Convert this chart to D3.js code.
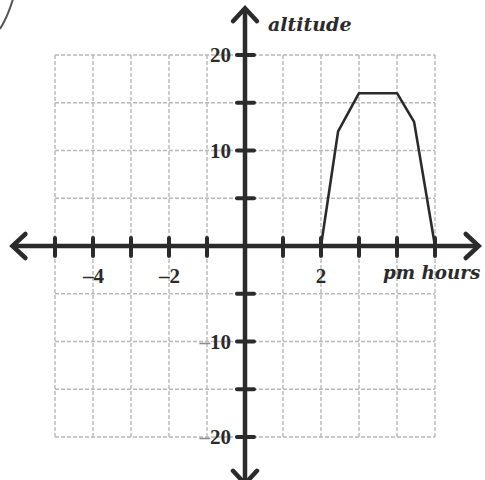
<!DOCTYPE html>
<html>
<head>
<meta charset="utf-8">
<script src="https://cdn.jsdelivr.net/npm/d3@7"></script>
<style>
  body { margin: 0; background: #fff; }
</style>
</head>
<body>
<script>
// data
const hours = [2, 2.45, 3, 4, 4.45, 5];
const altitude = [0, 12, 16, 16, 13, 0];
const xTickLabels = [-4, -2, 2];
const yTickLabels = [20, 10, -10, -20];
const xGridValues = d3.range(-5, 6, 1);
const yGridValues = d3.range(-20, 21, 5);

let width = 485;
let height = 480;
let ink = "#2b2b2b";

let x = d3.scaleLinear().domain([-5, 5]).range([55, 435]);
let y = d3.scaleLinear().domain([-20, 20]).range([437, 55]);

let svg = d3.select("body").append("svg")
    .attr("width", width)
    .attr("height", height)
    .attr("viewBox", [0, 0, width, height]);

// stray circle edge from the scan, top-left corner
svg.append("path")
    .attr("d", "M13,-1 Q8,16 0,29")
    .attr("fill", "none")
    .attr("stroke", "#555")
    .attr("stroke-width", 2);

// dashed grid
svg.append("g")
    .selectAll("line")
    .data(xGridValues)
    .join("line")
    .attr("x1", d => x(d)).attr("x2", d => x(d))
    .attr("y1", y(20)).attr("y2", y(-20))
    .attr("stroke", "#b8b8b8")
    .attr("stroke-width", 1.4)
    .attr("stroke-dasharray", "4,2");

svg.append("g")
    .selectAll("line")
    .data(yGridValues)
    .join("line")
    .attr("x1", x(-5)).attr("x2", x(5))
    .attr("y1", d => y(d)).attr("y2", d => y(d))
    .attr("stroke", "#b8b8b8")
    .attr("stroke-width", 1.4)
    .attr("stroke-dasharray", "4,2");

// the altitude curve
const line = d3.line()
    .x((d, i) => x(hours[i]))
    .y(d => y(d));

svg.append("path")
    .datum(altitude)
    .attr("fill", "none")
    .attr("stroke", ink)
    .attr("stroke-width", 2.6)
    .attr("stroke-linejoin", "round")
    .attr("d", line);

// axes with arrows
let x0 = x(0), y0 = y(0);
let xLeft = x(-6.12), xRight = x(6.15);
let yTop = y(24.9), yBottom = y(-24.9);

svg.append("line")
    .attr("x1", xLeft + 2).attr("x2", xRight - 2)
    .attr("y1", y0).attr("y2", y0)
    .attr("stroke", ink).attr("stroke-width", 4.5);

svg.append("line")
    .attr("x1", x0).attr("x2", x0)
    .attr("y1", yTop + 2).attr("y2", yBottom - 2)
    .attr("stroke", ink).attr("stroke-width", 4.5);

const arrows = [
    `M${xLeft + 13},${y0 - 12} L${xLeft},${y0} L${xLeft + 13},${y0 + 12}`,
    `M${xRight - 13},${y0 - 12} L${xRight},${y0} L${xRight - 13},${y0 + 12}`,
    `M${x0 - 12},${yTop + 13} L${x0},${yTop} L${x0 + 12},${yTop + 13}`,
    `M${x0 - 12},${yBottom - 13} L${x0},${yBottom} L${x0 + 12},${yBottom - 13}`
];
svg.append("g")
    .selectAll("path")
    .data(arrows)
    .join("path")
    .attr("d", d => d)
    .attr("fill", "none")
    .attr("stroke", ink)
    .attr("stroke-width", 4.5)
    .attr("stroke-linecap", "round")
    .attr("stroke-linejoin", "miter");

// tick marks
svg.append("g")
    .selectAll("line")
    .data(xGridValues.filter(d => d !== 0))
    .join("line")
    .attr("x1", d => x(d)).attr("x2", d => x(d))
    .attr("y1", y0 - 8).attr("y2", y0 + 10)
    .attr("stroke", ink).attr("stroke-width", 4)
    .attr("stroke-linecap", "round");

svg.append("g")
    .selectAll("line")
    .data(yGridValues.filter(d => d !== 0))
    .join("line")
    .attr("x1", x0 - 8).attr("x2", x0 + 9)
    .attr("y1", d => y(d)).attr("y2", d => y(d))
    .attr("stroke", ink).attr("stroke-width", 4)
    .attr("stroke-linecap", "round");

// tick labels
svg.append("g")
    .selectAll("text")
    .data(xTickLabels)
    .join("text")
    .attr("x", d => d < 0 ? x(d) + 11 : x(d))
    .attr("y", y0 + 37)
    .attr("text-anchor", d => d < 0 ? "end" : "middle")
    .attr("font-family", "Liberation Serif, serif")
    .attr("font-weight", "bold")
    .attr("font-size", 21)
    .attr("fill", ink)
    .text(d => d < 0 ? "\u2013" + Math.abs(d) : d);

let yLabels = svg.append("g")
    .selectAll("text")
    .data(yTickLabels)
    .join("text")
    .attr("x", x0 - 14)
    .attr("y", d => y(d) + 7)
    .attr("text-anchor", "end")
    .attr("font-family", "Liberation Serif, serif")
    .attr("font-weight", "bold")
    .attr("font-size", 21)
    .attr("fill", ink);

yLabels.filter(d => d < 0).append("tspan")
    .attr("fill", "#8a8a8a")
    .text("\u2013");
yLabels.append("tspan")
    .text(d => Math.abs(d));

// axis titles
svg.append("text")
    .attr("x", x0 + 23)
    .attr("y", 31)
    .attr("font-family", "DejaVu Serif, serif")
    .attr("font-style", "italic")
    .attr("font-weight", "bold")
    .attr("font-size", 19)
    .attr("fill", ink)
    .text("altitude");

svg.append("text")
    .attr("x", 383)
    .attr("y", y0 + 33)
    .attr("font-family", "DejaVu Serif, serif")
    .attr("font-style", "italic")
    .attr("font-weight", "bold")
    .attr("font-size", 18.3)
    .attr("fill", ink)
    .text("pm hours");
</script>
</body>
</html>
